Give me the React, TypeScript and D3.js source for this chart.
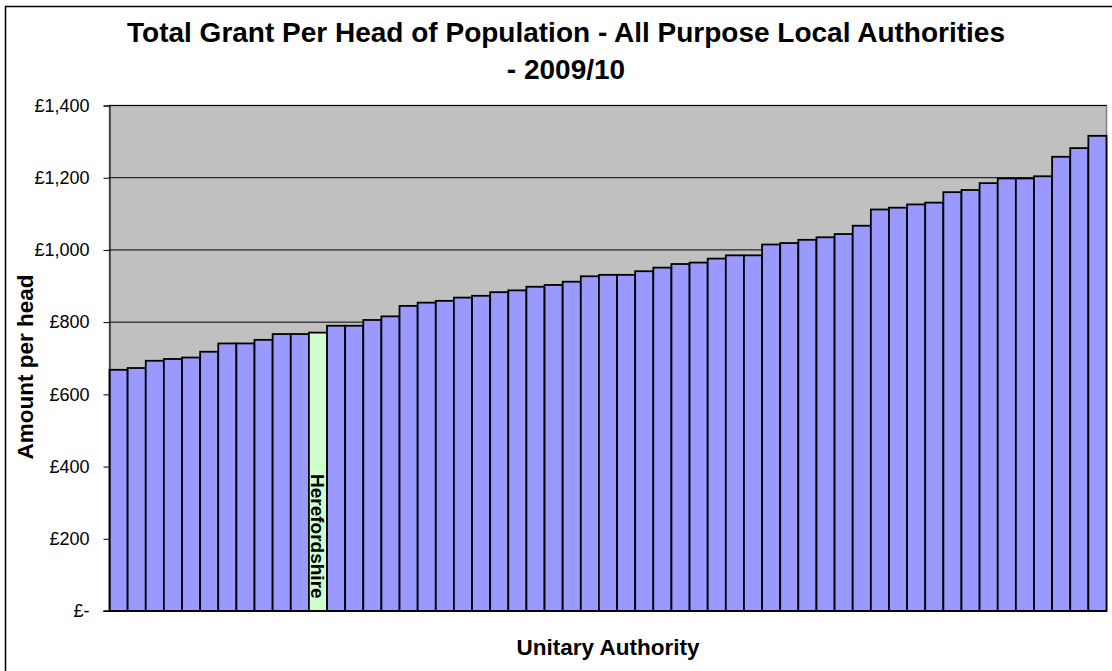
import * as d3 from "d3"
import { useRef, useEffect } from "react"

// authorities sorted by grant per head (only Herefordshire is labelled in the chart)
const authorities = [
  "UA 1", "UA 2", "UA 3", "UA 4", "UA 5", "UA 6", "UA 7", "UA 8", "UA 9", "UA 10",
  "UA 11", "Herefordshire", "UA 13", "UA 14", "UA 15", "UA 16", "UA 17", "UA 18", "UA 19", "UA 20",
  "UA 21", "UA 22", "UA 23", "UA 24", "UA 25", "UA 26", "UA 27", "UA 28", "UA 29", "UA 30",
  "UA 31", "UA 32", "UA 33", "UA 34", "UA 35", "UA 36", "UA 37", "UA 38", "UA 39", "UA 40",
  "UA 41", "UA 42", "UA 43", "UA 44", "UA 45", "UA 46", "UA 47", "UA 48", "UA 49", "UA 50",
  "UA 51", "UA 52", "UA 53", "UA 54", "UA 55",
]

const grantPerHead = [
  668, 673, 693, 698, 702, 718, 741, 741, 751, 767,
  767, 771, 790, 790, 806, 816, 845, 854, 859, 868,
  873, 883, 888, 898, 903, 912, 927, 931, 931, 941,
  951, 961, 965, 976, 985, 985, 1015, 1019, 1028, 1035,
  1044, 1067, 1112, 1117, 1126, 1131, 1160, 1166, 1185, 1198,
  1198, 1204, 1258, 1282, 1316,
]

const yTicks = [0, 200, 400, 600, 800, 1000, 1200, 1400]
const highlight = "Herefordshire"

export default function App() {
  const ref = useRef<SVGSVGElement>(null)

  useEffect(() => {
    const width = 1112
    const height = 671
    const marginLeft = 109.5
    const marginRight = 5.5
    const marginTop = 105.5
    const marginBottom = 60
    const font = "'Liberation Sans', Arial, sans-serif"

    const data = authorities.map((name, i) => ({ name, value: grantPerHead[i] }))

    const x = d3.scaleBand()
      .domain(authorities)
      .range([marginLeft, width - marginRight])
      .padding(0)

    const y = d3.scaleLinear()
      .domain([0, 1400])
      .range([height - marginBottom, marginTop])

    const svg = d3.select(ref.current)
    svg.selectAll("*").remove()
    svg.attr("width", width).attr("height", height)

    svg.append("rect")
      .attr("width", width).attr("height", height).attr("fill", "white")

    // outer chart frame
    svg.append("rect")
      .attr("x", 5.5).attr("y", 6.5)
      .attr("width", width + 10).attr("height", height + 10)
      .attr("fill", "none").attr("stroke", "black").attr("stroke-width", 1.5)

    // plot area
    svg.append("rect")
      .attr("x", marginLeft).attr("y", marginTop)
      .attr("width", width - marginRight - marginLeft)
      .attr("height", y(0) - marginTop)
      .attr("fill", "#C0C0C0")
      .attr("stroke", "#808080").attr("stroke-width", 1.5)

    svg.append("g")
      .selectAll("line")
      .data(yTicks.slice(1))
      .join("line")
      .attr("x1", marginLeft).attr("x2", width - marginRight)
      .attr("y1", d => y(d)).attr("y2", d => y(d))
      .attr("stroke", "black").attr("stroke-width", 1)

    svg.append("g")
      .selectAll("rect")
      .data(data)
      .join("rect")
      .attr("x", d => x(d.name)!)
      .attr("y", d => y(d.value))
      .attr("width", x.bandwidth())
      .attr("height", d => y(0) - y(d.value))
      .attr("fill", d => d.name === highlight ? "#CCFFCC" : "#9999FF")
      .attr("stroke", "black").attr("stroke-width", 1.8)

    const fmt = d3.format(",")
    const yAxis = svg.append("g")
      .attr("transform", `translate(${marginLeft},0)`)
      .call(d3.axisLeft(y).tickValues(yTicks).tickSize(6).tickPadding(14)
        .tickFormat(d => (+d === 0 ? "£-" : "£" + fmt(+d))))
    yAxis.select(".domain").attr("stroke", "black").attr("stroke-width", 1)
    yAxis.selectAll(".tick line").attr("stroke", "black")
    yAxis.selectAll(".tick text")
      .attr("font-family", font).attr("font-size", 18).attr("fill", "black")

    // bottom axis line
    svg.append("line")
      .attr("x1", marginLeft - 6).attr("x2", width - marginRight)
      .attr("y1", y(0)).attr("y2", y(0))
      .attr("stroke", "black").attr("stroke-width", 1.5)

    const hx = x(highlight)! + x.bandwidth() / 2
    svg.append("text")
      .attr("transform", `translate(${hx - 6.5},474) rotate(90)`)
      .attr("font-family", font).attr("font-weight", "bold").attr("font-size", 19)
      .attr("fill", "black")
      .text(highlight)

    svg.append("text")
      .attr("x", 566).attr("y", 42)
      .attr("text-anchor", "middle")
      .attr("font-family", font).attr("font-weight", "bold").attr("font-size", 28)
      .text("Total Grant Per Head of Population - All Purpose Local Authorities")

    svg.append("text")
      .attr("x", 566).attr("y", 79)
      .attr("text-anchor", "middle")
      .attr("font-family", font).attr("font-weight", "bold").attr("font-size", 28)
      .text("- 2009/10")

    svg.append("text")
      .attr("transform", `translate(33,367) rotate(-90)`)
      .attr("text-anchor", "middle")
      .attr("font-family", font).attr("font-weight", "bold").attr("font-size", 22.5)
      .text("Amount per head")

    svg.append("text")
      .attr("x", 608).attr("y", 655)
      .attr("text-anchor", "middle")
      .attr("font-family", font).attr("font-weight", "bold").attr("font-size", 22.5)
      .text("Unitary Authority")
  }, [])

  return (
    <div style={{ position: "absolute", left: 0, top: 0 }}>
      <svg ref={ref} style={{ display: "block" }}></svg>
    </div>
  )
}
